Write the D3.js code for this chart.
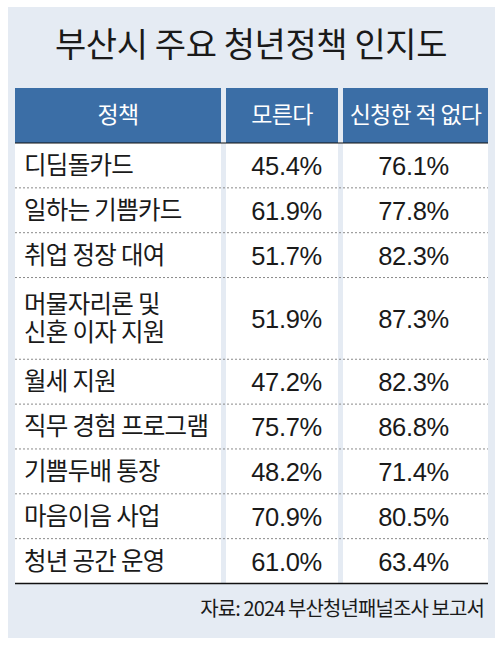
<!DOCTYPE html>
<html>
<head>
<meta charset="utf-8">
<script src="https://cdn.jsdelivr.net/npm/d3@7"></script>
<style>
  html, body { margin: 0; padding: 0; background: #fff; }
  svg { display: block; }
</style>
</head>
<body>
<div id="chart"></div>
<script>
const TITLE = '부산시 주요 청년정책 인지도'
const HEADERS = ['정책', '모른다', '신청한 적 없다']
const POLICIES = [
  ['디딤돌카드'],
  ['일하는 기쁨카드'],
  ['취업 정장 대여'],
  ['머물자리론 및', '신혼 이자 지원'],
  ['월세 지원'],
  ['직무 경험 프로그램'],
  ['기쁨두배 통장'],
  ['마음이음 사업'],
  ['청년 공간 운영'],
]
const UNKNOWN = [45.4, 61.9, 51.7, 51.9, 47.2, 75.7, 48.2, 70.9, 61.0]
const NOT_APPLIED = [76.1, 77.8, 82.3, 87.3, 82.3, 86.8, 71.4, 80.5, 63.4]
const SOURCE = '자료: 2024 부산청년패널조사 보고서'

const width = 502
const height = 645
const KR = '"Noto Sans CJK KR", "Noto Sans", sans-serif'
const NUM = '"Liberation Sans", Arial, sans-serif'

const svg = d3.select('#chart').append('svg')
  .attr('width', width)
  .attr('height', height)

// background panel
svg.append('rect')
  .attr('x', 8).attr('y', 7)
  .attr('width', 487).attr('height', 631)
  .attr('fill', '#e5ebf3')

svg.append('text')
  .text(TITLE)
  .attr('x', 251)
  .attr('y', 57)
  .attr('text-anchor', 'middle')
  .attr('font-family', KR)
  .attr('font-size', 34)
  .attr('font-weight', 400)
  .attr('letter-spacing', -0.4)
  .attr('fill', '#1a1a1a')

// columns: [left, right]
const colEdges = [[15, 221], [226, 338], [343, 488]]

// rows: cumulative height by line count
const rows = POLICIES.map((p, i) => ({
  lines: p,
  unknown: UNKNOWN[i],
  notApplied: NOT_APPLIED[i],
}))
const rowH = d => 45 + (d.lines.length - 1) * 37
let acc = 0
rows.forEach(d => { d.start = acc; acc += rowH(d); d.end = acc })
const y = d3.scaleLinear()
  .domain([0, acc])
  .range([143, 583.5])

// header
const headerTop = 88
const head = svg.append('g')
head.selectAll('rect').data(HEADERS)
  .enter().append('rect')
    .attr('x', (d, i) => colEdges[i][0])
    .attr('y', headerTop)
    .attr('width', (d, i) => colEdges[i][1] - colEdges[i][0])
    .attr('height', y(0) - headerTop)
    .attr('fill', '#3b6ea6')
head.selectAll('text').data(HEADERS)
  .enter().append('text')
    .text(d => d)
    .attr('x', (d, i) => (colEdges[i][0] + colEdges[i][1]) / 2)
    .attr('y', headerTop + 35)
    .attr('text-anchor', 'middle')
    .attr('font-family', KR)
    .attr('font-size', 23)
    .attr('letter-spacing', -0.7)
    .attr('fill', '#fff')

// body cells
const body = svg.append('g')
colEdges.forEach(c => {
  body.append('rect')
    .attr('x', c[0]).attr('y', y(0))
    .attr('width', c[1] - c[0])
    .attr('height', y(acc) - y(0))
    .attr('fill', '#fff')
})

// dotted separators
body.selectAll('line.sep').data(rows.slice(0, -1))
  .enter().append('line')
    .attr('class', 'sep')
    .attr('x1', 15).attr('x2', 488)
    .attr('y1', d => y(d.end)).attr('y2', d => y(d.end))
    .attr('stroke', '#8a8a8a')
    .attr('stroke-width', 1)
    .attr('stroke-dasharray', '2,2')

// header bottom + table bottom lines
svg.append('line')
  .attr('x1', 15).attr('x2', 488)
  .attr('y1', y(0)).attr('y2', y(0))
  .attr('stroke', '#111').attr('stroke-width', 1.2)
svg.append('line')
  .attr('x1', 15).attr('x2', 488)
  .attr('y1', y(acc)).attr('y2', y(acc))
  .attr('stroke', '#111').attr('stroke-width', 1.4)

const row = body.selectAll('g.row').data(rows)
  .enter().append('g')
    .attr('class', 'row')
    .attr('transform', d => `translate(0,${(y(d.start) + y(d.end)) / 2})`)

// policy name, one text with a tspan per line
row.append('text')
  .attr('font-family', KR)
  .attr('font-size', 24.5)
  .attr('letter-spacing', -0.7)
  .attr('fill', '#1a1a1a')
  .each(function(d) {
    const n = d.lines.length
    d3.select(this).selectAll('tspan').data(d.lines)
      .enter().append('tspan')
        .text(l => l)
        .attr('x', 24)
        .attr('y', (l, j) => (j - (n - 1) / 2) * 27.5 + 8.5)
  })

row.append('text')
  .text(d => d.unknown.toFixed(1) + '%')
  .attr('x', 322)
  .attr('y', 9.5)
  .attr('text-anchor', 'end')
  .attr('font-family', NUM)
  .attr('font-size', 25.5)
  .attr('letter-spacing', -0.3)
  .attr('fill', '#1a1a1a')

row.append('text')
  .text(d => d.notApplied.toFixed(1) + '%')
  .attr('x', 449)
  .attr('y', 9.5)
  .attr('text-anchor', 'end')
  .attr('font-family', NUM)
  .attr('font-size', 25.5)
  .attr('letter-spacing', -0.3)
  .attr('fill', '#1a1a1a')

svg.append('text')
  .text(SOURCE)
  .attr('x', 484)
  .attr('y', 616)
  .attr('text-anchor', 'end')
  .attr('font-family', KR)
  .attr('font-size', 20)
  .attr('letter-spacing', -0.9)
  .attr('fill', '#1a1a1a')
</script>
</body>
</html>
